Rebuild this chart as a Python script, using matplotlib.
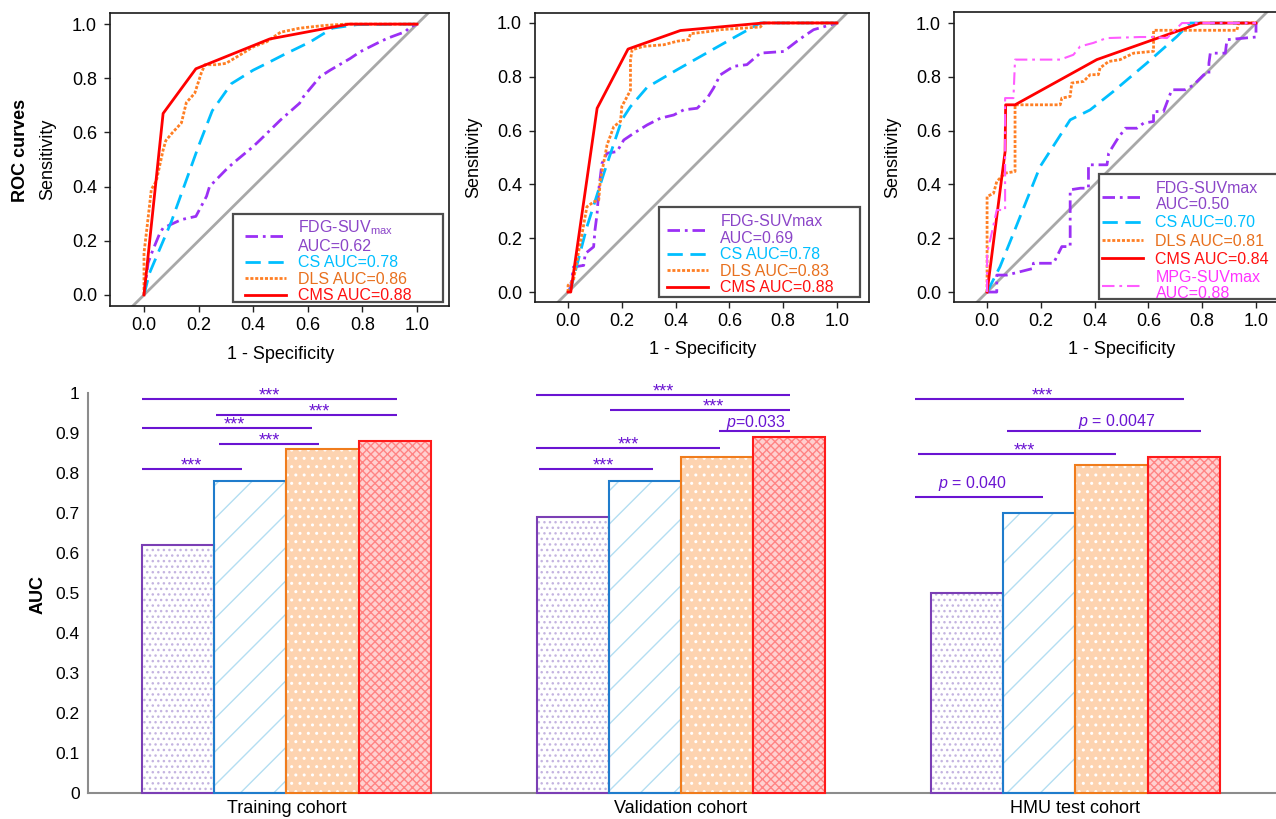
# -*- coding: UTF-8 -*-
# ROC curves (top row) and AUC bar chart with significance brackets (bottom)
import numpy as np
import matplotlib
matplotlib.use('Agg')
import matplotlib.pyplot as plt
from matplotlib.patches import Rectangle
from matplotlib.lines import Line2D

plt.rcParams['font.family'] = ['Liberation Sans', 'DejaVu Sans']
plt.rcParams['mathtext.fontset'] = 'custom'
plt.rcParams['mathtext.rm'] = 'Liberation Sans'
plt.rcParams['mathtext.it'] = 'Liberation Sans:italic'
plt.rcParams['lines.scale_dashes'] = False
plt.rcParams['hatch.linewidth'] = 1.0

# ------------------------ ROC data ---------------------
train_fdg_fpr = [0, 0.015, 0.033, 0.058, 0.07, 0.137, 0.19, 0.229, 0.24, 0.30,
                 0.327, 0.40, 0.425, 0.5, 0.57, 0.584, 0.645, 0.682, 0.755, 0.792,
                 0.853, 0.89, 0.957, 0.975, 1.0]
train_fdg_tpr = [0, 0.118, 0.167, 0.228, 0.247, 0.278, 0.29, 0.364, 0.4, 0.462,
                 0.487, 0.548, 0.572, 0.646, 0.708, 0.732, 0.806, 0.83, 0.873, 0.898,
                 0.929, 0.947, 0.972, 0.99, 1.0]
train_cs_fpr = [0, 0.02, 0.1, 0.2, 0.25, 0.32, 0.4, 0.45, 0.51, 0.61, 0.69, 0.78, 1.0]
train_cs_tpr = [0, 0.08, 0.27, 0.55, 0.68, 0.78, 0.83, 0.855, 0.886, 0.935, 0.985,
                0.998, 1.0]
train_dls_fpr = [0, 0.0, 0.01, 0.027, 0.045, 0.07, 0.08, 0.105, 0.137, 0.155,
                 0.186, 0.21, 0.223, 0.265, 0.30, 0.35, 0.40, 0.45, 0.5, 0.57,
                 0.66, 0.74, 1.0]
train_dls_tpr = [0, 0.155, 0.24, 0.39, 0.42, 0.535, 0.57, 0.6, 0.635, 0.71,
                 0.745, 0.82, 0.85, 0.85, 0.855, 0.885, 0.916, 0.935, 0.97, 0.985,
                 0.995, 1.0, 1.0]
train_cms_fpr = [0, 0.07, 0.19, 0.46, 0.75, 1.0]
train_cms_tpr = [0, 0.67, 0.835, 0.945, 1.0, 1.0]

val_fdg_fpr = [0, 0.01, 0.02, 0.058, 0.064, 0.095, 0.1, 0.108, 0.114, 0.126,
               0.145, 0.182, 0.207, 0.244, 0.294, 0.343, 0.393, 0.43, 0.48, 0.517,
               0.541, 0.566, 0.616, 0.665, 0.715, 0.802, 0.851, 0.876, 0.913, 1.0]
val_fdg_tpr = [0, 0.02, 0.093, 0.099, 0.143, 0.168, 0.23, 0.292, 0.379, 0.478,
               0.516, 0.522, 0.565, 0.59, 0.621, 0.646, 0.658, 0.677, 0.683, 0.72,
               0.758, 0.807, 0.839, 0.845, 0.888, 0.894, 0.932, 0.95, 0.975, 1.0]
val_cs_fpr = [0, 0.01, 0.07, 0.133, 0.2, 0.232, 0.294, 0.405, 0.504, 0.603, 0.715, 1.0]
val_cs_tpr = [0, 0.012, 0.242, 0.441, 0.64, 0.689, 0.761, 0.826, 0.882, 0.938, 1.0, 1.0]
val_dls_fpr = [0, 0.0, 0.02, 0.033, 0.052, 0.07, 0.095, 0.114, 0.12, 0.145,
               0.17, 0.195, 0.2, 0.22, 0.232, 0.232, 0.238, 0.28, 0.356, 0.405,
               0.449, 0.455, 0.53, 0.566, 0.715, 0.727, 1.0]
val_dls_tpr = [0, 0.025, 0.043, 0.118, 0.217, 0.317, 0.335, 0.342, 0.416, 0.547,
               0.615, 0.634, 0.69, 0.727, 0.75, 0.863, 0.9, 0.913, 0.919, 0.932,
               0.938, 0.96, 0.969, 0.975, 0.985, 1.0, 1.0]
val_cms_fpr = [0, 0.01, 0.108, 0.223, 0.418, 0.727, 1.0]
val_cms_tpr = [0, 0, 0.683, 0.903, 0.972, 1.0, 1.0]

hmu_fdg_fpr = [0, 0.036, 0.036, 0.073, 0.172, 0.172, 0.247, 0.278, 0.309, 0.309,
               0.347, 0.377, 0.377, 0.446, 0.452, 0.483, 0.514, 0.557, 0.582, 0.619,
               0.619, 0.656, 0.687, 0.737, 0.768, 0.806, 0.825, 0.825, 0.83, 0.886,
               0.892, 1.0, 1.0]
hmu_fdg_tpr = [0, 0, 0.063, 0.063, 0.088, 0.107, 0.107, 0.169, 0.169, 0.38,
               0.386, 0.386, 0.473, 0.473, 0.516, 0.566, 0.609, 0.609, 0.628, 0.634,
               0.671, 0.671, 0.752, 0.752, 0.77, 0.808, 0.808, 0.851, 0.888, 0.888,
               0.938, 0.948, 1.0]
hmu_cs_fpr = [0, 0.048, 0.098, 0.197, 0.309, 0.383, 0.47, 0.594, 0.706, 0.755, 1.0]
hmu_cs_tpr = [0, 0.094, 0.218, 0.466, 0.64, 0.677, 0.746, 0.851, 0.95, 1.0, 1.0]
hmu_dls_fpr = [0, 0, 0.024, 0.036, 0.067, 0.104, 0.104, 0.272, 0.278, 0.309,
               0.315, 0.359, 0.383, 0.414, 0.42, 0.452, 0.495, 0.545, 0.619, 0.619,
               0.929, 0.935, 1.0]
hmu_dls_tpr = [0, 0.355, 0.367, 0.411, 0.442, 0.448, 0.696, 0.696, 0.721, 0.727,
               0.777, 0.783, 0.808, 0.808, 0.833, 0.857, 0.864, 0.888, 0.895, 0.973,
               0.973, 1.0, 1.0]
hmu_cms_fpr = [0, 0.067, 0.069, 0.104, 0.408, 0.793, 1.0]
hmu_cms_tpr = [0, 0.522, 0.696, 0.696, 0.864, 1.0, 1.0]
hmu_mpg_fpr = [0, 0, 0.017, 0.036, 0.067, 0.067, 0.098, 0.104, 0.272, 0.321,
               0.346, 0.395, 0.444, 0.57, 0.619, 0.669, 0.725, 1.0]
hmu_mpg_tpr = [0, 0.144, 0.218, 0.305, 0.305, 0.721, 0.721, 0.864, 0.864, 0.882,
               0.913, 0.926, 0.944, 0.948, 0.948, 0.944, 1.0, 1.0]

train_labels = ['FDG-SUV$_{\\mathrm{max}}$\nAUC=0.62', 'CS AUC=0.78',
                'DLS AUC=0.86', 'CMS AUC=0.88']
val_labels = ['FDG-SUVmax\nAUC=0.69', 'CS AUC=0.78', 'DLS AUC=0.83', 'CMS AUC=0.88']
hmu_labels = ['FDG-SUVmax\nAUC=0.50', 'CS AUC=0.70', 'DLS AUC=0.81',
              'CMS AUC=0.84', 'MPG-SUVmax\nAUC=0.88']

# ------------------------ AUC bar data ---------------------------------------
cohorts = ['Training cohort', 'Validation cohort', 'HMU test cohort']
auc_fdg = [0.62, 0.69, 0.50]
auc_cs = [0.78, 0.78, 0.70]
auc_dls = [0.86, 0.84, 0.82]
auc_cms = [0.88, 0.89, 0.84]

# significance brackets: cohort index, start, end (bar units from group centre)
sig_group = [0, 0, 0, 0, 0, 1, 1, 1, 1, 1, 2, 2, 2, 2]
sig_x0 = [-2.0, -0.975, -2.0, -0.934, -2.0,
          -2.007, -0.982, 0.528, -2.007, -1.965,
          -2.22, -0.947, -2.18, -2.22]
sig_x1 = [1.53, 1.53, 0.355, 0.452, -0.615,
          1.511, 1.511, 1.511, 0.54, -0.386,
          1.504, 1.74, 0.562, -0.45]
sig_y = [0.985, 0.945, 0.9125, 0.8725, 0.81,
         0.995, 0.9575, 0.905, 0.8625, 0.81,
         0.985, 0.905, 0.8475, 0.74]
sig_text = ['***', '***', '***', '***', '***',
            '***', '***', '$p$=0.033', '***', '***',
            '***', '$p$ = 0.0047', '***', '$p$ = 0.040']
sig_tx = [-0.24, 0.45, -0.726, -0.24, -1.31,
          -0.248, 0.445, 1.04, -0.733, -1.08,
          -0.46, 0.576, -0.71, -1.43]
sig_ty = [0.981, 0.941, 0.908, 0.868, 0.806,
          0.991, 0.953, 0.915, 0.858, 0.806,
          0.981, 0.9175, 0.843, 0.7625]

# ------------------------ styles ---------------------------------------------
style_fdg = dict(color='#9b30f5', lw=2.0, ls=(0, (9, 3.5, 2, 3.5)))
style_cs = dict(color='#00bfff', lw=2.0, ls=(0, (11, 5.5)))
style_dls = dict(color='#ff7f24', lw=2.0, ls=(0, (2.2, 1.3)))
style_cms = dict(color='#ff0000', lw=2.0, ls='-')
style_mpg = dict(color='#ff5cff', lw=1.5, ls=(0, (9, 3.5, 2, 3.5)))
text_fdg, text_cs, text_dls, text_cms, text_mpg = (
    '#8b45c8', '#00bfff', '#e8701e', '#ff1010', '#ff33ff')
SIG_COLOR = '#6a14d2'

W, H = 1276, 819


def draw_roc(ax, curves, labels, colors, xlim, ylim, leg_xy, box, spacing=0.1):
    'one ROC panel in R style'
    ax.axline((0, 0), (1, 1), color='#a8a8a8', lw=2, zorder=1)
    handles = []
    for fpr, tpr, st in curves:
        ax.plot(fpr, tpr, color=st['color'], lw=st['lw'],
                linestyle=st['ls'], zorder=2)
        handles.append(Line2D([], [], color=st['color'], lw=st['lw'],
                              linestyle=st['ls']))
    ax.set_xlim(*xlim)
    ax.set_ylim(*ylim)
    ticks = np.arange(0, 1.01, 0.2)
    ax.set_xticks(ticks)
    ax.set_yticks(ticks)
    ax.set_xticklabels(['%.1f' % t for t in ticks])
    ax.set_yticklabels(['%.1f' % t for t in ticks])
    ax.tick_params(direction='out', length=4.3, width=1, colors='#222222',
                   labelsize=13, labelcolor='black')
    ax.tick_params(axis='x', pad=3.6)
    ax.tick_params(axis='y', pad=5)
    for sp in ax.spines.values():
        sp.set_color('#1a1a1a')
        sp.set_linewidth(1.2)
    ax.set_xlabel('1 - Specificity', fontsize=13)
    ax.set_ylabel('Sensitivity', fontsize=13)
    ax.xaxis.label.set_va('center')
    ax.yaxis.label.set_va('center')
    ax.xaxis.set_label_coords(0.503, -0.165)
    ax.yaxis.set_label_coords(-0.185, 0.5)

    # legend box (white, dark frame) and frameless legend on top
    ax.add_patch(Rectangle((box[0], box[1]), box[2] - box[0], box[3] - box[1],
                           transform=ax.transAxes, facecolor='white',
                           edgecolor='#4d4d4d', lw=1.6, clip_on=False,
                           zorder=4))
    leg = ax.legend(handles, labels, loc='lower left', bbox_to_anchor=leg_xy,
                    frameon=False, fontsize=11.5, borderpad=0, borderaxespad=0,
                    labelspacing=spacing, handlelength=2.6, handletextpad=0.75)
    leg.set_zorder(5)
    for t, c in zip(leg.get_texts(), colors):
        t.set_color(c)
        t.set_linespacing(1.12)
    return


def draw_bars(ax):
    'grouped AUC bars with hatch fills'
    centers = np.arange(len(cohorts)) * 5.464
    series = [
        (auc_fdg, -1.5, 'white', '#c4b4e0', '...', '#7b3fb5'),
        (auc_cs, -0.5, 'white', '#b3def2', '/', '#1f7ccc'),
        (auc_dls, 0.5, '#fdd3b0', 'white', '..', '#f07c1c'),
        (auc_cms, 1.5, '#ffd0d0', '#ff8484', 'xxxx', '#ff1a1a'),
    ]
    for vals, off, face, hcol, hatch, edge in series:
        ax.bar(centers + off, vals, width=1.0, color=face, edgecolor=hcol,
               hatch=hatch, linewidth=0, zorder=2)
        ax.bar(centers + off, vals, width=1.0, fill=False, edgecolor=edge,
               linewidth=1.5, zorder=3, clip_on=False)

    for g, x0, x1, y, txt, tx, ty in zip(sig_group, sig_x0, sig_x1, sig_y,
                                         sig_text, sig_tx, sig_ty):
        c = centers[g]
        ax.plot([c + x0, c + x1], [y, y], color=SIG_COLOR, lw=1.5,
                solid_capstyle='butt', clip_on=False, zorder=4)
        fs = 13 if txt == '***' else 11.5
        ax.text(c + tx, ty, txt, color=SIG_COLOR, fontsize=fs, ha='center',
                va='baseline', clip_on=False)

    ax.set_xlim(-2.748, 13.706)
    ax.set_ylim(0, 1)
    yt = np.arange(0, 1.01, 0.1)
    ax.set_yticks(yt)
    ax.set_yticklabels(['0'] + ['%.1f' % v for v in yt[1:-1]] + ['1'])
    ax.set_xticks(centers)
    ax.set_xticklabels(cohorts)
    ax.tick_params(axis='y', length=0, pad=6, labelsize=12.5)
    ax.tick_params(axis='x', length=0, pad=5, labelsize=13)
    for s in ['top', 'right']:
        ax.spines[s].set_visible(False)
    for s in ['left', 'bottom']:
        ax.spines[s].set_color('#8c8c8c')
        ax.spines[s].set_linewidth(1.5)
    ax.set_ylabel('AUC', fontsize=13, fontweight='bold')
    ax.yaxis.label.set_va('center')
    ax.yaxis.set_label_coords(-0.042, 0.495)
    return


fig = plt.figure(figsize=(W / 100, H / 100), dpi=100)

ax1 = fig.add_axes([110 / W, (H - 306) / H, 339 / W, 293 / H])
draw_roc(ax1,
         [(train_fdg_fpr, train_fdg_tpr, style_fdg),
          (train_cs_fpr, train_cs_tpr, style_cs),
          (train_dls_fpr, train_dls_tpr, style_dls),
          (train_cms_fpr, train_cms_tpr, style_cms)],
         train_labels, [text_fdg, text_cs, text_dls, text_cms],
         (-0.1245, 1.117), (-0.041, 1.041), (0.398, 0.009),
         (0.363, 0.0137, 0.982, 0.314))
ax1.text(-0.265, 0.532, 'ROC curves', transform=ax1.transAxes, rotation=90,
         fontsize=13, fontweight='bold', ha='center', va='center')

ax2 = fig.add_axes([535 / W, (H - 302) / H, 334 / W, 289 / H])
draw_roc(ax2,
         [(val_fdg_fpr, val_fdg_tpr, style_fdg),
          (val_cs_fpr, val_cs_tpr, style_cs),
          (val_dls_fpr, val_dls_tpr, style_dls),
          (val_cms_fpr, val_cms_tpr, style_cms)],
         val_labels, [text_fdg, text_cs, text_dls, text_cms],
         (-0.123, 1.119), (-0.037, 1.037), (0.395, 0.023),
         (0.371, 0.0173, 0.973, 0.329))

ax3 = fig.add_axes([954 / W, (H - 302) / H, 334 / W, 290 / H])
draw_roc(ax3,
         [(hmu_fdg_fpr, hmu_fdg_tpr, style_fdg),
          (hmu_cs_fpr, hmu_cs_tpr, style_cs),
          (hmu_dls_fpr, hmu_dls_tpr, style_dls),
          (hmu_cms_fpr, hmu_cms_tpr, style_cms),
          (hmu_mpg_fpr, hmu_mpg_tpr, style_mpg)],
         hmu_labels, [text_fdg, text_cs, text_dls, text_cms, text_mpg],
         (-0.123, 1.119), (-0.037, 1.041), (0.443, 0.002),
         (0.434, 0.0103, 1.06, 0.441), spacing=0.2)

axb = fig.add_axes([88 / W, (H - 793) / H, 1188 / W, 400 / H])
draw_bars(axb)

fig.savefig('out.png', dpi=100)
